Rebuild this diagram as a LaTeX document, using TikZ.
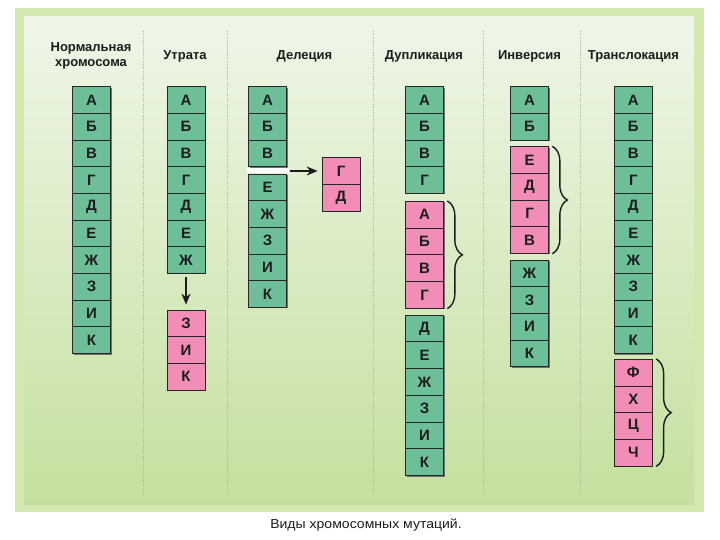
\documentclass[tikz,border=0pt]{standalone}
\usepackage{fontspec}
\setmainfont{Liberation Sans}
\usetikzlibrary{arrows.meta,decorations.pathreplacing,shadows}
\definecolor{cellgreen}{HTML}{6DBF98}
\definecolor{cellpink}{HTML}{F28DB7}
\definecolor{frameband}{HTML}{D3E8AE}
\definecolor{paneltop}{HTML}{EFF6E8}
\definecolor{panelbot}{HTML}{C4E09E}
\definecolor{dotline}{HTML}{A8B89E}
\definecolor{ink}{HTML}{1C1C1C}
\begin{document}
\begin{tikzpicture}[x=1pt,y=-1pt,
  cell/.style={draw=black!85, line width=0.7pt, minimum width=38pt, minimum height=26.67pt,
    inner sep=0pt, font=\bfseries\fontsize{15}{16}\selectfont, text=ink,
    general shadow={fill=black!55, shadow xshift=1.1pt, shadow yshift=-1.1pt}},
  gcell/.style={cell, fill=cellgreen},
  pcell/.style={cell, fill=cellpink},
  head/.style={font=\bfseries\fontsize{13}{15.5}\selectfont, align=center, text=ink},
  sep/.style={dotline, line width=0.9pt, dash pattern=on 0.9pt off 1.3pt},
  arr/.style={-{Stealth[length=11pt,width=9pt]}, line width=1.3pt, ink},
  brc/.style={decorate, decoration={brace, amplitude=15pt}, line width=1.4pt, ink}]
\useasboundingbox (0,0) rectangle (720,540);
\fill[white] (0,0) rectangle (720,540);
% frame and panel
\fill[frameband] (15,8) rectangle (704,512);
\shade[top color=paneltop, bottom color=panelbot] (24,17) rectangle (694,504);
% separators
\foreach \sx in {143,227,373,483,580}
  \draw[sep] (\sx,31) -- (\sx,495);
% headers
\node[head] (h1) at (91,56) {Нормальная\\хромосома};
\node[head] (h2) at (185,56) {Утрата};
\node[head] (h3) at (304.5,56) {Делеция};
\node[head] (h4) at (424,56) {Дупликация};
\node[head] (h5) at (529.5,56) {Инверсия};
\node[head] (h6) at (633.5,56) {Транслокация};
% column 1: normal
\foreach \t [count=\i] in {А,Б,В,Г,Д,Е,Ж,З,И,К}
  \node[gcell] (n\i) at (91.5,{86.7+(\i-0.5)*26.67}) {\t};
% column 2: loss
\foreach \t [count=\i] in {А,Б,В,Г,Д,Е,Ж}
  \node[gcell] (u\i) at (186,{86.7+(\i-0.5)*26.67}) {\t};
\foreach \t [count=\i from 8] in {З,И,К}
  \node[pcell] (u\i) at (186,{310+(\i-7.5)*26.67}) {\t};
\draw[arr, shorten <=3pt, shorten >=5pt] (u7) -- (u8);
% column 3: deletion
\foreach \t [count=\i] in {А,Б,В}
  \node[gcell] (d\i) at (267.5,{86.7+(\i-0.5)*26.67}) {\t};
\foreach \t [count=\i from 4] in {Е,Ж,З,И,К}
  \node[gcell] (d\i) at (267.5,{174+(\i-3.5)*26.67}) {\t};
\fill[white] (247,167.6) rectangle (289,173.3);
\coordinate (dgap) at (290,171);
\node[pcell] (dg1) at (341,171) {Г};
\node[pcell] (dg2) at (341,197.67) {Д};
\draw[arr, shorten >=4pt] (dgap) -- (dg1.west);
% column 4: duplication
\foreach \t [count=\i] in {А,Б,В,Г}
  \node[gcell] (p\i) at (424.5,{86.7+(\i-0.5)*26.67}) {\t};
\foreach \t [count=\i from 5] in {А,Б,В,Г}
  \node[pcell] (p\i) at (424.5,{201.3+(\i-4.5)*26.75}) {\t};
\foreach \t [count=\i from 9] in {Д,Е,Ж,З,И,К}
  \node[gcell] (p\i) at (424.5,{315+(\i-8.5)*26.75}) {\t};
\draw[brc] ([xshift=3.5pt]p5.north east) -- ([xshift=3.5pt]p8.south east);
% column 5: inversion
\foreach \t [count=\i] in {А,Б}
  \node[gcell] (v\i) at (529.5,{86.7+(\i-0.5)*26.67}) {\t};
\foreach \t [count=\i from 3] in {Е,Д,Г,В}
  \node[pcell] (v\i) at (529.5,{146.7+(\i-2.5)*26.67}) {\t};
\foreach \t [count=\i from 7] in {Ж,З,И,К}
  \node[gcell] (v\i) at (529.5,{260+(\i-6.5)*26.67}) {\t};
\draw[brc] ([xshift=3.5pt]v3.north east) -- ([xshift=3.5pt]v6.south east);
% column 6: translocation
\foreach \t [count=\i] in {А,Б,В,Г,Д,Е,Ж,З,И,К}
  \node[gcell] (t\i) at (633.3,{86.7+(\i-0.5)*26.67}) {\t};
\foreach \t [count=\i from 11] in {Ф,Х,Ц,Ч}
  \node[pcell] (t\i) at (633.3,{359.3+(\i-10.5)*26.67}) {\t};
\draw[brc] ([xshift=3.5pt]t11.north east) -- ([xshift=3.5pt]t14.south east);
% caption
\node[font=\fontsize{13}{14}\selectfont, text=ink, xscale=1.08, transform shape] (cap) at (366,525) {Виды хромосомных мутаций.};
\end{tikzpicture}
\end{document}
